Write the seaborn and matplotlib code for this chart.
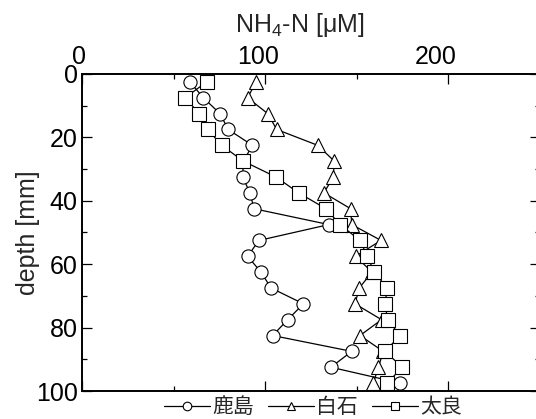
import matplotlib
matplotlib.use("Agg")
import matplotlib.pyplot as plt
import matplotlib.transforms as mtransforms
from matplotlib.ticker import MultipleLocator, FixedLocator
import seaborn as sns
import pandas as pd

# ---- data ----
depth = [2.5, 7.5, 12.5, 17.5, 22.5, 27.5, 32.5, 37.5, 42.5, 47.5,
         52.5, 57.5, 62.5, 67.5, 72.5, 77.5, 82.5, 87.5, 92.5, 97.5]
kashima = [59.0, 66.3, 75.4, 79.9, 93.1, 88.2, 87.8, 91.8, 94.0, 134.9,
           96.7, 90.5, 97.8, 103.3, 121.0, 112.4, 104.2, 147.4, 136.0, 173.8]
shiraishi = [95.1, 90.5, 101.5, 106.4, 128.8, 137.9, 137.3, 132.2, 146.8, 147.4,
             163.4, 149.5, 158.5, 151.5, 149.2, 163.7, 151.9, 164.6, 162.0, 159.2]
tara = [68.1, 56.3, 64.1, 68.7, 76.3, 88.2, 106.0, 118.4, 133.3, 141.0,
        151.9, 155.9, 159.7, 166.8, 165.6, 167.0, 173.8, 165.6, 175.0, 166.8]
sites = ["鹿島", "白石", "太良"]
top_ticks = [0, 100, 200]
y_ticks = [0, 20, 40, 60, 80, 100]

rows = []
for site, vals in zip(sites, [kashima, shiraishi, tara]):
    for d, v in zip(depth, vals):
        rows.append({"site": site, "conc": v, "depth": d})
df = pd.DataFrame(rows)

sns.set_theme(style="white")
plt.rcParams["font.family"] = ["Liberation Sans", "Noto Sans CJK JP", "DejaVu Sans"]
plt.rcParams["mathtext.fontset"] = "custom"
plt.rcParams["mathtext.rm"] = "Liberation Sans"
plt.rcParams["mathtext.it"] = "Liberation Sans:italic"
plt.rcParams["mathtext.default"] = "regular"

fig = plt.figure(figsize=(5.36, 4.19), dpi=100)
ax = fig.add_axes([82 / 536, 1 - 391 / 419, 457.5 / 536, 317 / 419])

sns.lineplot(data=df, x="conc", y="depth", style="site", markers=["o", "^", "s"],
             dashes=False, color="black", sort=False, estimator=None, orient="y",
             markerfacecolor="white", markeredgecolor="black", markersize=9.5,
             markeredgewidth=0.8, linewidth=0.9, legend=False, ax=ax)

ax.set_xlim(0, 250)
ax.set_ylim(100, 0)

ax.xaxis.set_major_locator(FixedLocator(top_ticks))
ax.xaxis.set_minor_locator(MultipleLocator(50))
ax.yaxis.set_major_locator(FixedLocator(y_ticks))
ax.yaxis.set_minor_locator(MultipleLocator(10))
ax.tick_params(axis="both", which="both", direction="in", top=True, bottom=True,
               left=True, right=True, labeltop=True, labelbottom=False,
               colors="black", labelsize=18)
ax.tick_params(which="major", length=7.2, width=0.9)
ax.tick_params(which="minor", length=3.6, width=0.9)
ax.tick_params(axis="x", which="major", pad=3.5)
ax.tick_params(axis="y", which="major", pad=3)

# slight left offsets of top tick labels as in the reference
offsets = [-3, -7, -12]
for lab, off in zip(ax.get_xticklabels(which="major"), offsets):
    lab.set_transform(lab.get_transform() + mtransforms.ScaledTranslation(off / 100, 0, fig.dpi_scale_trans))

for s in ax.spines.values():
    s.set_color("black")
    s.set_linewidth(1.4)

ax.xaxis.set_label_position("top")
ax.set_xlabel("NH$_4$-N [μM]", fontsize=18)
ax.xaxis.set_label_coords((300 - 82) / 457.5, 1 + 42 / 317)
ax.set_ylabel("depth [mm]", fontsize=18)
ax.yaxis.set_label_coords(-(82 - 40) / 457.5, 0.5)

fig.legend(handles=list(ax.lines), labels=sites, loc="center",
           bbox_to_anchor=(313 / 536, 1 - 407 / 419), ncol=3, frameon=False,
           fontsize=15, handlelength=2.2, handletextpad=0.1, columnspacing=0.7,
           markerscale=0.65, borderpad=0, borderaxespad=0)

fig.savefig("out.png", dpi=100)
